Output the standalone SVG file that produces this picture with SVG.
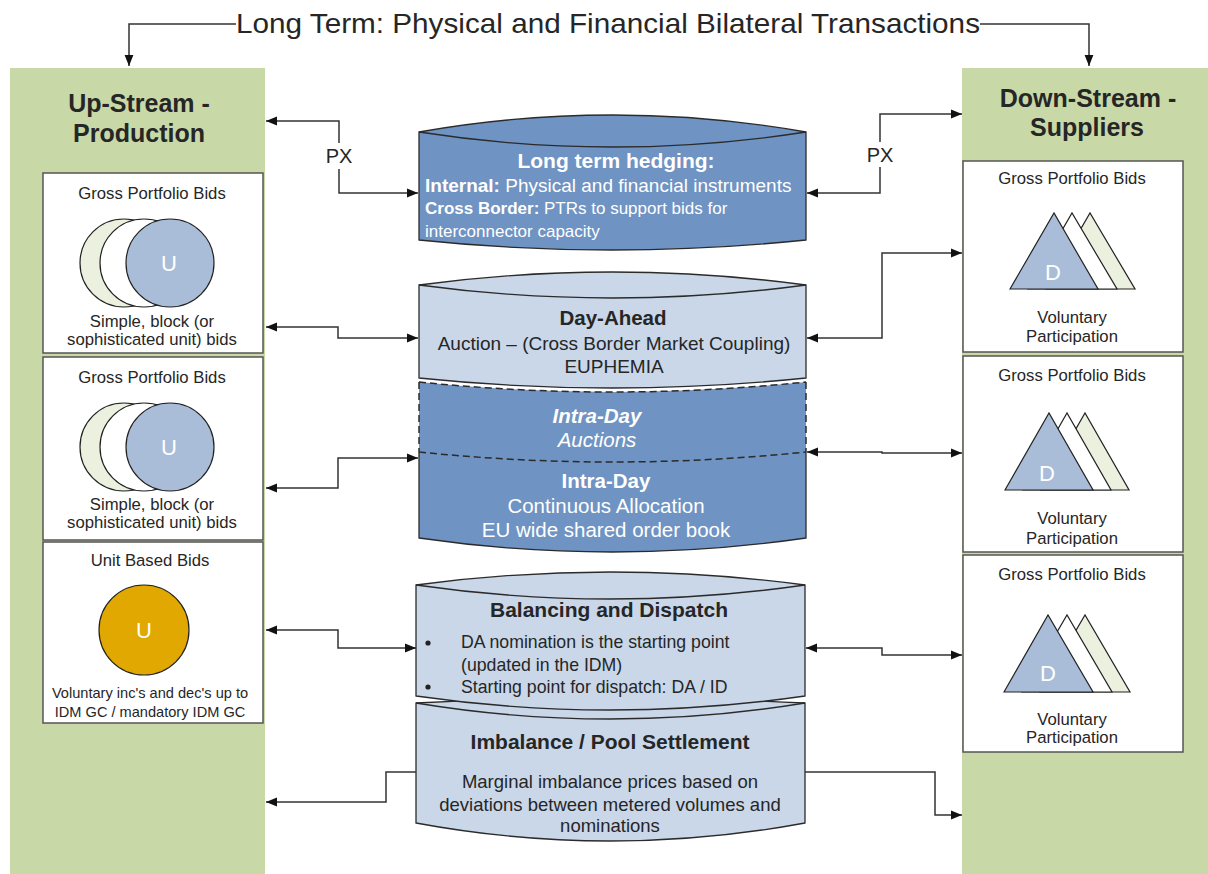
<svg xmlns="http://www.w3.org/2000/svg" width="1208" height="874" viewBox="0 0 1208 874">
<defs>
<style>
text{font-family:"Liberation Sans",Arial,sans-serif;fill:#262626}
.c{text-anchor:middle}
.b{font-weight:bold}
.w{fill:#ffffff}
.panel{fill:#c8d9a7}
.box{fill:#ffffff;stroke:#555;stroke-width:1.5}
.dk{fill:#6f93c2;stroke:#2b2b2b;stroke-width:1.3}
.lt{fill:#c9d7e9;stroke:#2b2b2b;stroke-width:1.3}
.edge{fill:none;stroke:#2b2b2b;stroke-width:1.3}
.dash{fill:none;stroke:#2b2b2b;stroke-width:1.5;stroke-dasharray:7,4}
.con{fill:none;stroke:#333;stroke-width:1.5}
.sh{stroke:#222;stroke-width:1.2}
.gp{font-size:16.7px}
.sm{font-size:16.7px}
</style>
<marker id="ah" viewBox="0 0 10 10" refX="10" refY="5" markerWidth="11" markerHeight="11" markerUnits="userSpaceOnUse" orient="auto-start-reverse"><path d="M0,1 L10,5 L0,9 z" fill="#111"/></marker>
</defs>
<rect width="1208" height="874" fill="#ffffff"/>

<g id="title">
<text x="608" y="33" class="c" style="font-size:28px" textLength="744" lengthAdjust="spacingAndGlyphs">Long Term: Physical and Financial Bilateral Transactions</text>
</g>

<g id="upstream">
<rect class="panel" x="10" y="68" width="255" height="806"/>
<text x="139" y="112" class="c b" style="font-size:25px">Up-Stream -</text>
<text x="139" y="142" class="c b" style="font-size:25px">Production</text>
</g>
<g id="downstream">
<rect class="panel" x="962" y="68" width="246" height="806"/>
<text x="1088" y="107" class="c b" style="font-size:25px">Down-Stream -</text>
<text x="1087" y="136" class="c b" style="font-size:25px">Suppliers</text>
</g>

<g id="up-box1">
<rect class="box" x="43" y="173" width="220" height="180"/>
<text x="152" y="199" class="c gp">Gross Portfolio Bids</text>
<circle cx="124" cy="263" r="44" fill="#ebf1de" class="sh"/>
<circle cx="144" cy="263" r="44" fill="#ffffff" class="sh"/>
<circle cx="170" cy="263" r="44" fill="#a9bdd9" class="sh"/>
<text x="169" y="271" class="c w" style="font-size:22px">U</text>
<text x="152" y="327" class="c sm">Simple, block (or</text>
<text x="152" y="345" class="c sm">sophisticated unit) bids</text>
</g>
<g id="up-box2">
<rect class="box" x="43" y="357" width="220" height="183"/>
<text x="152" y="383" class="c gp">Gross Portfolio Bids</text>
<circle cx="124" cy="447" r="44" fill="#ebf1de" class="sh"/>
<circle cx="144" cy="447" r="44" fill="#ffffff" class="sh"/>
<circle cx="170" cy="447" r="44" fill="#a9bdd9" class="sh"/>
<text x="169" y="455" class="c w" style="font-size:22px">U</text>
<text x="152" y="510" class="c sm">Simple, block (or</text>
<text x="152" y="528" class="c sm">sophisticated unit) bids</text>
</g>
<g id="up-box3">
<rect class="box" x="43" y="542" width="220" height="181"/>
<text x="150" y="566" class="c gp">Unit Based Bids</text>
<circle cx="144" cy="630" r="45" fill="#e0a800" class="sh"/>
<text x="144" y="638" class="c w" style="font-size:22px">U</text>
<text x="150" y="698" class="c" style="font-size:14.6px">Voluntary inc's and dec's up to</text>
<text x="150" y="717" class="c" style="font-size:14.6px">IDM GC / mandatory IDM GC</text>
</g>

<g id="down-box1">
<rect class="box" x="963" y="161" width="220" height="191"/>
<text x="1072" y="184" class="c gp">Gross Portfolio Bids</text>
<polygon points="1046,289 1090,213 1135,289" fill="#ebf1de" class="sh"/>
<polygon points="1028,289 1072,213 1117,289" fill="#ffffff" class="sh"/>
<polygon points="1010,289 1054,213 1098,289" fill="#a9bdd9" class="sh"/>
<text x="1053" y="280" class="c w" style="font-size:22px">D</text>
<text x="1072" y="323" class="c sm">Voluntary</text>
<text x="1072" y="342" class="c sm">Participation</text>
</g>
<g id="down-box2">
<rect class="box" x="963" y="356" width="220" height="196"/>
<text x="1072" y="381" class="c gp">Gross Portfolio Bids</text>
<polygon points="1041,490 1085,413 1129,490" fill="#ebf1de" class="sh"/>
<polygon points="1023,490 1067,413 1111,490" fill="#ffffff" class="sh"/>
<polygon points="1005,490 1049,413 1093,490" fill="#a9bdd9" class="sh"/>
<text x="1047" y="481" class="c w" style="font-size:22px">D</text>
<text x="1072" y="524" class="c sm">Voluntary</text>
<text x="1072" y="544" class="c sm">Participation</text>
</g>
<g id="down-box3">
<rect class="box" x="963" y="555" width="220" height="197"/>
<text x="1072" y="580" class="c gp">Gross Portfolio Bids</text>
<polygon points="1040,692 1085,615 1130,692" fill="#ebf1de" class="sh"/>
<polygon points="1022,692 1067,615 1112,692" fill="#ffffff" class="sh"/>
<polygon points="1004,692 1048,615 1093,692" fill="#a9bdd9" class="sh"/>
<text x="1048" y="681" class="c w" style="font-size:22px">D</text>
<text x="1072" y="725" class="c sm">Voluntary</text>
<text x="1072" y="743" class="c sm">Participation</text>
</g>

<g id="long-term-hedging">
<path class="dk" d="M419,132 Q612,98 806,132 L806,240 Q612,260 419,240 Z"/>
<path class="edge" d="M419,132 Q612,162 806,132"/>
<text x="616" y="168" class="c b w" style="font-size:21px">Long term hedging:</text>
<text x="425" y="192" class="w" style="font-size:19px"><tspan class="b w">Internal:</tspan> Physical and financial instruments</text>
<text x="425" y="214" class="w" style="font-size:17px"><tspan class="b w">Cross Border:</tspan> PTRs to support bids for</text>
<text x="425" y="237" class="w" style="font-size:17px">interconnector capacity</text>
</g>

<g id="intra-day">
<path fill="#6f93c2" d="M419,382 Q612,402 806,382 L806,538 Q612,566 419,538 Z"/>
<path class="dash" d="M419,382 Q612,402 806,382 M419,382 V452 M806,382 V452 M419,452 Q612,472 806,452"/>
<path class="edge" d="M419,452 V538 Q612,566 806,538 V452"/>
<text x="597" y="423" class="c b w" style="font-size:20.5px;font-style:italic">Intra-Day</text>
<text x="597" y="447" class="c w" style="font-size:20.5px;font-style:italic">Auctions</text>
<text x="606" y="488" class="c b w" style="font-size:20.5px">Intra-Day</text>
<text x="606" y="513" class="c w" style="font-size:20.5px">Continuous Allocation</text>
<text x="606" y="537" class="c w" style="font-size:20.5px">EU wide shared order book</text>
</g>

<g id="day-ahead">
<path class="lt" d="M419,285 Q612,259 806,285 L806,378 Q612,398 419,378 Z"/>
<path class="edge" d="M419,285 Q612,311 806,285"/>
<text x="613" y="325" class="c b" style="font-size:20.5px">Day-Ahead</text>
<text x="614" y="350" class="c" style="font-size:19px">Auction – (Cross Border Market Coupling)</text>
<text x="614" y="373" class="c" style="font-size:19px">EUPHEMIA</text>
</g>

<g id="imbalance">
<path class="lt" d="M416,703 Q610,693 805,703 L805,823 Q610,859 416,823 Z"/>
<path class="edge" d="M416,703 Q610,735 805,703"/>
<text x="610" y="749" class="c b" style="font-size:21px">Imbalance / Pool Settlement</text>
<text x="610" y="788" class="c" style="font-size:18.5px">Marginal imbalance prices based on</text>
<text x="610" y="811" class="c" style="font-size:18.5px">deviations between metered volumes and</text>
<text x="610" y="832" class="c" style="font-size:18.5px">nominations</text>
</g>

<g id="balancing">
<path class="lt" d="M416,585 Q610,559 805,585 L805,696 Q610,724 416,696 Z"/>
<path class="edge" d="M416,585 Q610,613 805,585"/>
<text x="609" y="617" class="c b" style="font-size:21px">Balancing and Dispatch</text>
<circle cx="428" cy="643" r="2.6" fill="#222"/>
<circle cx="428" cy="687" r="2.6" fill="#222"/>
<text x="461" y="648" style="font-size:17.7px">DA nomination is the starting point</text>
<text x="461" y="671" style="font-size:17.7px">(updated in the IDM)</text>
<text x="461" y="693" style="font-size:17.7px">Starting point for dispatch: DA / ID</text>
</g>

<g id="connectors">
<path class="con" d="M236,24 H129 V66" marker-end="url(#ah)"/>
<path class="con" d="M980,24 H1089 V66" marker-end="url(#ah)"/>
<path class="con" d="M266,121 H339 V143" marker-start="url(#ah)"/>
<path class="con" d="M339,169 V193 H418" marker-end="url(#ah)"/>
<text x="339" y="163" class="c" style="font-size:20px">PX</text>
<path class="con" d="M962,114 H880 V142" marker-start="url(#ah)"/>
<path class="con" d="M880,167 V193 H807" marker-end="url(#ah)"/>
<text x="880" y="162" class="c" style="font-size:20px">PX</text>
<path class="con" d="M266,327 H338 V338 H418" marker-start="url(#ah)" marker-end="url(#ah)"/>
<path class="con" d="M266,488 H338 V458 H418" marker-start="url(#ah)" marker-end="url(#ah)"/>
<path class="con" d="M962,253 H882 V338 H807" marker-start="url(#ah)" marker-end="url(#ah)"/>
<path class="con" d="M807,452 H882 V453 H962" marker-start="url(#ah)" marker-end="url(#ah)"/>
<path class="con" d="M266,630 H338 V648 H416" marker-start="url(#ah)" marker-end="url(#ah)"/>
<path class="con" d="M806,648 H882 V655 H962" marker-start="url(#ah)" marker-end="url(#ah)"/>
<path class="con" d="M416,772 H386 V802 H266" marker-end="url(#ah)"/>
<path class="con" d="M805,772 H935 V815 H962" marker-end="url(#ah)"/>
</g>
</svg>
